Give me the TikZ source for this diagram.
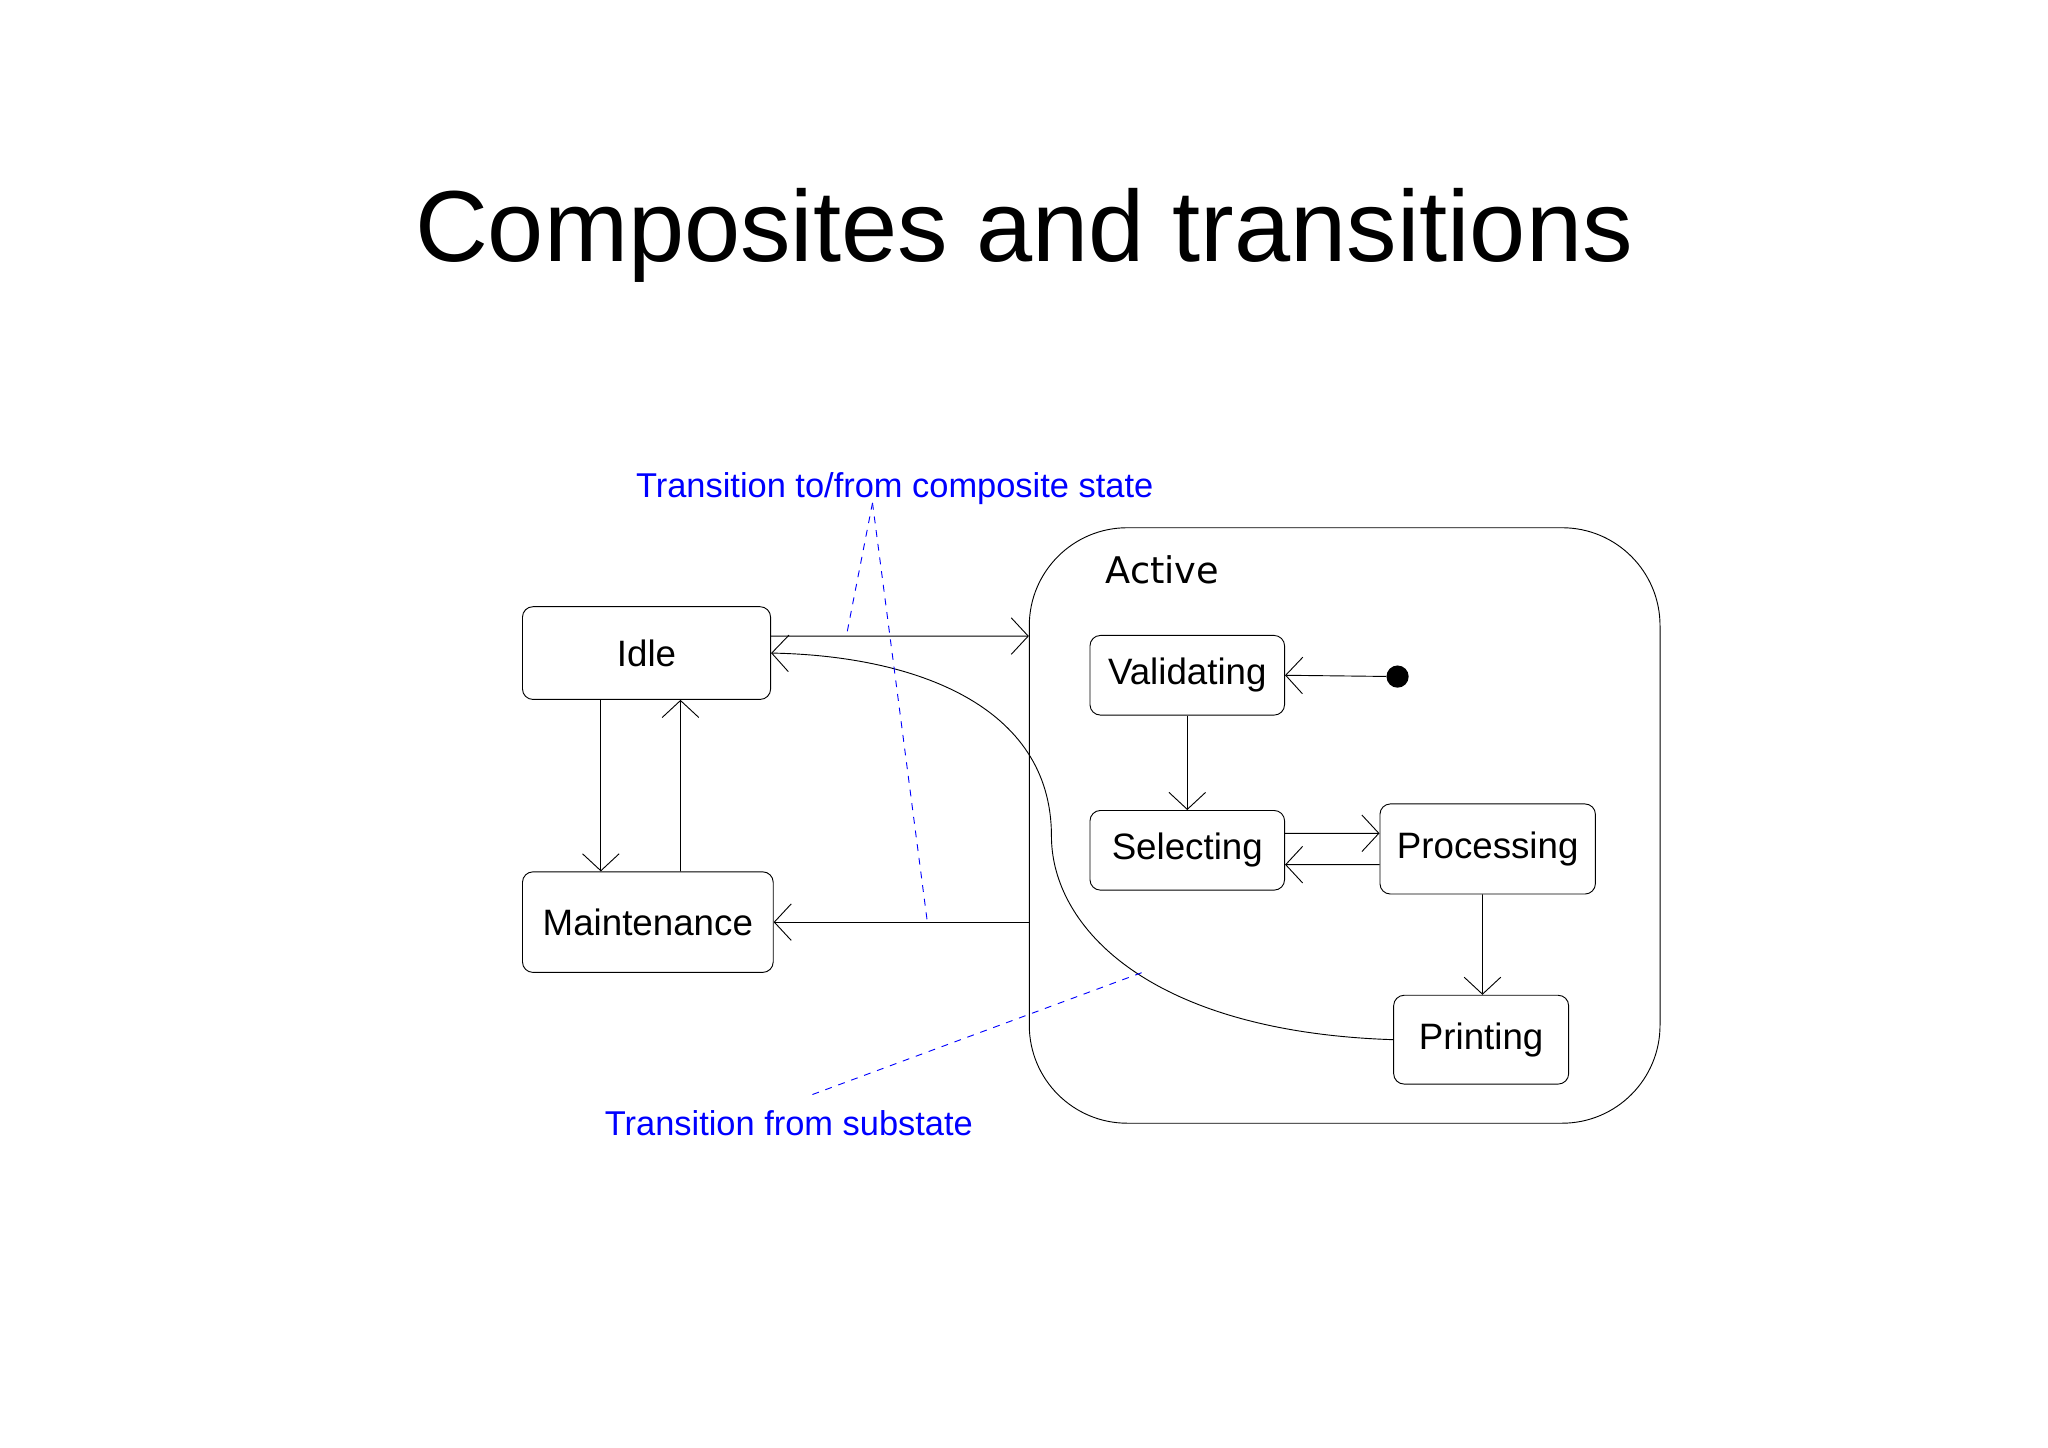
\documentclass[tikz,border=0pt]{standalone}
\usepackage{fontspec}
\setmainfont{Liberation Sans}
\newfontfamily\dejavu{DejaVu Sans}
\usetikzlibrary{arrows.meta,positioning}
\tikzset{
  state/.style={draw,rounded corners=0.16cm,inner sep=0pt,font=\fontsize{16}{18}\selectfont},
  trans/.style={-{Straight Barb[length=2.6mm,width=5.6mm]}},
  note/.style={blue,dashed},
  notetext/.style={blue,font=\fontsize{15}{18}\selectfont}
}
\begin{document}
\begin{tikzpicture}[x=0.02cm,y=-0.02cm]
            \useasboundingbox (0,0) rectangle (1568,1108);
            \node[font=\fontsize{44}{50}\selectfont] (title) at (784,180) {Composites and transitions};

            \node[draw,rounded corners=1.5cm,minimum width=9.66cm,minimum height=9.12cm] (active) at (1029.5,632) {};
            \node[font=\dejavu\fontsize{16}{18}\selectfont] (activelbl) at (890,436) {Active};

            \node[state,minimum width=3.8cm,minimum height=1.42cm] (idle) at (495,500) {Idle};
            \node[state,minimum width=3.84cm,minimum height=1.54cm] (maint) at (496,706) {Maintenance};
            \node[state,minimum width=2.98cm,minimum height=1.22cm] (valid) at (909,517) {Validating};
            \node[state,minimum width=2.98cm,minimum height=1.22cm] (select) at (909,651) {Selecting};
            \node[state,minimum width=3.3cm,minimum height=1.38cm] (proc) at (1139,650) {Processing};
            \node[state,minimum width=2.68cm,minimum height=1.36cm] (print) at (1134,796) {Printing};
            \node[circle,fill,inner sep=0pt,minimum size=0.34cm] (init) at (1070,518) {};

            % transitions
            \draw[trans] ([yshift=0.26cm]idle.east) -- (active.west |- 0,487);
            \draw[trans] (active.west |- maint.east) -- (maint.east);
            \draw[trans] ([xshift=-0.7cm]idle.south) -- ([xshift=-0.72cm]maint.north);
            \draw[trans] ([xshift=0.5cm]maint.north) -- ([xshift=0.52cm]idle.south);
            \draw[trans] (init) -- (valid.east);
            \draw[trans] (valid.south) -- (select.north);
            \draw[trans] ([yshift=0.26cm]select.east) -- ([yshift=0.24cm]proc.west);
            \draw[trans] ([yshift=-0.24cm]proc.west) -- ([yshift=-0.22cm]select.east);
            \draw[trans] ([xshift=-0.08cm]proc.south) -- ([xshift=0.02cm]print.north);
            \draw[trans] (print.west) .. controls (880,790) and (805,710) .. (805,640)
                .. controls (805,540) and (700,502) .. (idle.east);

            % notes
            \node[notetext] (note1) at (685,374) {Transition to/from composite state};
            \node[notetext] (note2) at (604,860) {Transition from substate};
            \coordinate (n1) at (668,385);
            \draw[note] (n1) -- (648,487);
            \draw[note] (n1) -- (710,706);
            \draw[note] (622,838) -- (876,744);
        \end{tikzpicture}
\end{document}
